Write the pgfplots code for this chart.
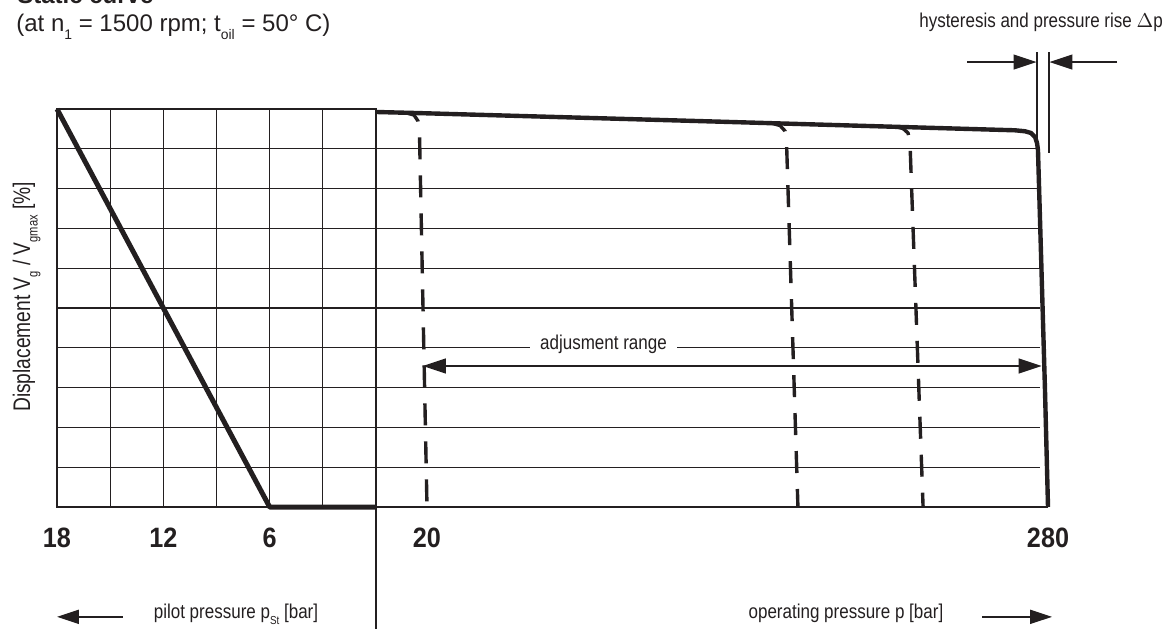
\documentclass[border=0pt]{standalone}
\usepackage{fontspec}
\setmainfont{Liberation Sans}
\newfontfamily\cond[FakeStretch=0.85]{Liberation Sans}
\newfontfamily\ylabfont[FakeStretch=0.8]{Liberation Sans}
\newfontfamily\tickfont[FakeStretch=0.9]{Liberation Sans}
\usepackage{graphicx}
\usepackage{xcolor}
\usepackage{pgfplots}
\pgfplotsset{compat=1.18}
\usetikzlibrary{arrows.meta}
\definecolor{rb}{RGB}{35,31,32}
\newcommand{\sbs}[1]{\raisebox{-0.6ex}{\scalebox{0.58}{#1}}}
\tikzset{
  thin line/.style={rb, line width=0.65pt},
  bigarrow/.style={-{Triangle[length=11pt,width=7pt]}},
  lbl/.style={font=\cond\fontsize{10}{12}\selectfont, inner sep=0pt, text=rb},
}
\begin{document}
\begin{tikzpicture}
\path[use as bounding box] (0,0) rectangle (583.5pt,314pt);
\clip (0,0) rectangle (583.5pt,314pt);
% title (cut off at top, as in the original)
\node[anchor=base west, inner sep=0pt, text=rb, font=\bfseries\fontsize{12}{14}\selectfont] at (8.5pt,312pt) {Static curve};
\node[anchor=base west, inner sep=0pt, text=rb, font=\fontsize{12}{14}\selectfont] at (8pt,298pt) {(at n\sbs{1} = 1500 rpm; t\sbs{oil} = 50° C)};

% ---------- left part: pilot pressure ----------
\begin{axis}[
  at={(28.5pt,60.5pt)}, anchor=south west, scale only axis,
  width=159.5pt, height=199pt,
  xmin=0, xmax=18, ymin=0, ymax=100, x dir=reverse,
  xtick={0,3,6,9,12,15,18}, xticklabels={,,6,,12,,18},
  ytick={0,10,...,100}, yticklabels={,,,,,,,,,,,},
  grid=major, major grid style={rb, line width=0.65pt},
  axis line style={rb, line width=0.65pt},
  major tick length=0pt,
  xticklabel style={font=\tickfont\bfseries\fontsize{14}{14}\selectfont, text=rb, anchor=base, yshift=-20pt, inner sep=0pt},
  clip=false,
]
\addplot[line width=2.5pt, rb, line join=round] coordinates {(18,100) (6,0) (0,0)};
% bottom label and arrow
\draw[rb, bigarrow, line width=1pt] (14.28,-27.6) -- (18,-27.6);
\node[lbl, anchor=base] at (7.9,-27.9) {pilot pressure p\sbs{St} [bar]};
% y label
\node[rotate=90, anchor=base, inner sep=0pt, text=rb, font=\ylabfont\fontsize{12}{14}\selectfont] at (19.52,52.8) {Displacement V\sbs{g} / V\sbs{gmax} [\%]};
\end{axis}

% ---------- right part: operating pressure ----------
\begin{axis}[
  at={(188pt,60.5pt)}, anchor=south west, scale only axis,
  width=336pt, height=199pt,
  xmin=-1.35, xmax=280, ymin=0, ymax=100,
  xtick={20,280}, xticklabels={20,280}, ytick=\empty,
  axis line style={draw=none}, major tick length=0pt,
  xticklabel style={font=\tickfont\bfseries\fontsize{14}{14}\selectfont, text=rb, anchor=base, yshift=-20pt, inner sep=0pt},
  clip=false,
]
% grid lines
\draw[thin line] (-1.35,10) -- (276.6,10);
\draw[thin line] (-1.35,20) -- (276.6,20);
\draw[thin line] (-1.35,30) -- (276.6,30);
\draw[thin line] (-1.35,40) -- (276.6,40);
\draw[thin line] (-1.35,50) -- (276.6,50);
\draw[thin line] (-1.35,60) -- (276.6,60);
\draw[thin line] (-1.35,70) -- (276.6,70);
\draw[thin line] (-1.35,80) -- (276.6,80);
\draw[thin line] (-1.35,90) -- (276.6,90);
\draw[thin line] (-1.35,0) -- (280,0);
% divider
\draw[thin line] (-1.35,99.8) -- (-1.35,-32);
% adjustment range
\node[lbl, anchor=base, fill=white, inner xsep=5pt, inner ysep=2pt] at (93.9,39.45) {adjusment range};
\draw[thin line, {Triangle[length=11.5pt,width=7.5pt]}-{Triangle[length=11.5pt,width=7.5pt]}] (18.3,35.43) -- (277.3,35.43);
% main static curve
\addplot[line width=2.2pt, rb, line join=round] coordinates {
  (-1.35,99.25) (14.98,99.0) (134.3,96.96) (266.2,94.65) (270.4,94.4) (272.9,93.97)
  (274.6,92.96) (275.4,91.46) (275.8,89.7) (278.7,30.15) (280.0,0)};
% dashed curves
\addplot[line width=1.7pt, rb, dash pattern=on 11pt off 8pt, dash phase=3pt] coordinates {
  (11.21,99.05) (14.56,98.49) (16.23,96.98) (16.86,93.97) (20.0,0)};
\addplot[line width=1.7pt, rb, dash pattern=on 11pt off 8pt, dash phase=3pt] coordinates {
  (164.45,96.4) (167.8,95.85) (169.9,94.47) (170.5,92.2) (175.3,0)};
\addplot[line width=1.7pt, rb, dash pattern=on 11pt off 8pt, dash phase=3pt] coordinates {
  (216.4,95.53) (219.3,95.1) (221.4,93.97) (222.2,91.7) (227.7,0)};
% hysteresis
\draw[thin line] (275.4,114.3) -- (275.4,90);
\draw[thin line] (280.4,114.3) -- (280.4,89);
\draw[thin line, -{Triangle[length=11.5pt,width=7.5pt]}] (246.1,111.8) -- (275.2,111.8);
\draw[thin line, -{Triangle[length=11.5pt,width=7.5pt]}] (308.9,111.8) -- (280.6,111.8);
\node[lbl, anchor=base east] at (328.2,120.6) {hysteresis and pressure rise $\Delta$p};
% bottom label and arrow
\node[lbl, anchor=base] at (195.4,-27.9) {operating pressure p [bar]};
\draw[rb, bigarrow, line width=1pt] (252.4,-27.6) -- (281.7,-27.6);
\end{axis}
\end{tikzpicture}
\end{document}
